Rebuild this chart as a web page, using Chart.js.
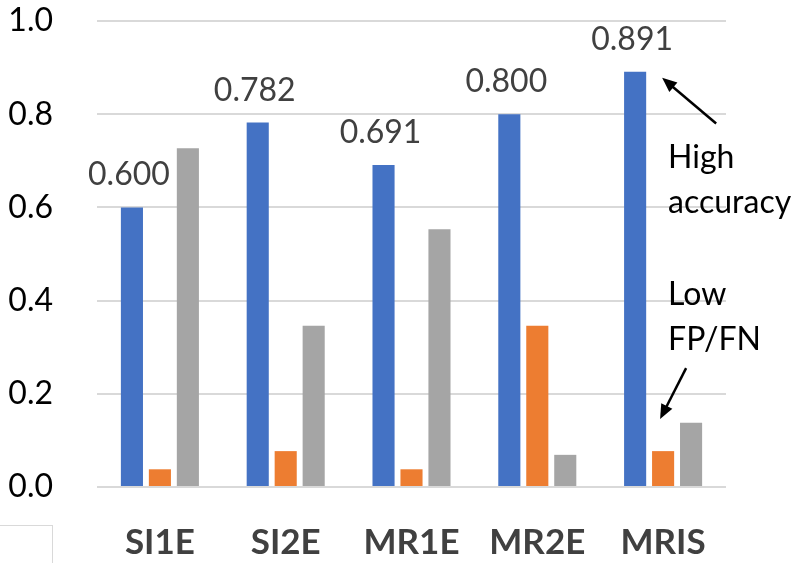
<!DOCTYPE html>
<html>
<head>
<meta charset="utf-8">
<script src="https://cdn.jsdelivr.net/npm/chart.js@4.4.0/dist/chart.umd.min.js"></script>
<style>
    body{ margin: 0; background: #ffffff; }
    #wrap{ position: relative; width: 799px; height: 563px; }
    #box{ position: absolute; left: 0; top: 525px; width: 52px; height: 40px; border: 1.5px solid #d9d9d9; border-left: none; border-bottom: none; }
</style>
</head>
<body>
<div id="wrap">
    <canvas id="chart" width="799" height="563"></canvas>
    <div id="box"></div>
</div>
<script>
let labels = ["SI1E", "SI2E", "MR1E", "MR2E", "MRIS"];
let accuracy = [0.600, 0.782, 0.691, 0.800, 0.891];
let fpRate = [0.038, 0.077, 0.038, 0.346, 0.077];
let fnRate = [0.727, 0.346, 0.553, 0.069, 0.138];
let yTicks = [0.0, 0.2, 0.4, 0.6, 0.8, 1.0];

const font = "Lato, 'Open Sans', sans-serif";

// values above the blue bars
const valueLabels = {
    id: "valueLabels",
    afterDatasetsDraw(chart){
        let ctx = chart.ctx;
        let meta = chart.getDatasetMeta(0);
        ctx.save();
        ctx.font = "32px " + font;
        ctx.fillStyle = "#404040";
        ctx.textAlign = "center";
        ctx.textBaseline = "alphabetic";
        for(let i=0;i<meta.data.length;i++){
            let bar = meta.data[i];
            ctx.fillText(accuracy[i].toFixed(3), bar.x - 3, bar.y - 22);
        }
        ctx.restore();
    }
};

function arrow(ctx, x1, y1, x2, y2){
    let a = Math.atan2(y2 - y1, x2 - x1);
    let len = 16;
    ctx.beginPath();
    ctx.moveTo(x1, y1);
    ctx.lineTo(x2 - Math.cos(a) * 8, y2 - Math.sin(a) * 8);
    ctx.stroke();
    ctx.beginPath();
    ctx.moveTo(x2, y2);
    ctx.lineTo(x2 - len * Math.cos(a - 0.4), y2 - len * Math.sin(a - 0.4));
    ctx.lineTo(x2 - len * Math.cos(a + 0.4), y2 - len * Math.sin(a + 0.4));
    ctx.closePath();
    ctx.fill();
}

// callouts next to the last group
const notes = {
    id: "notes",
    afterDraw(chart){
        let ctx = chart.ctx;
        let y = chart.scales.y;
        let last = labels.length - 1;
        let blue = chart.getDatasetMeta(0).data[last];
        let orange = chart.getDatasetMeta(1).data[last];
        let tx = orange.x + 5;
        ctx.save();
        ctx.fillStyle = "#000000";
        ctx.strokeStyle = "#000000";
        ctx.lineWidth = 2.5;
        ctx.font = "32px " + font;
        ctx.textAlign = "left";
        ctx.textBaseline = "alphabetic";
        ctx.fillText("High", tx, y.getPixelForValue(0.685));
        ctx.fillText("accuracy", tx, y.getPixelForValue(0.588));
        ctx.fillText("Low", tx, y.getPixelForValue(0.39));
        ctx.fillText("FP/FN", tx, y.getPixelForValue(0.294));
        arrow(ctx, blue.x + 81, y.getPixelForValue(0.78), blue.x + 27, blue.y + 6);
        arrow(ctx, orange.x + 23, y.getPixelForValue(0.255), orange.x - 3, orange.y - 32);
        ctx.restore();
    }
};

window.onload = function(){
    const ctx = document.getElementById("chart").getContext("2d");
    new Chart(ctx, {
        type: "bar",
        data: {
            labels: labels,
            datasets: [
                { label: "Accuracy", data: accuracy, backgroundColor: "#4472C4" },
                { label: "FP", data: fpRate, backgroundColor: "#ED7D31" },
                { label: "FN", data: fnRate, backgroundColor: "#A5A5A5" }
            ]
        },
        options: {
            responsive: false,
            animation: false,
            categoryPercentage: 0.667,
            barPercentage: 0.79,
            layout: { padding: { top: 21, right: 73, bottom: 0, left: 0 } },
            plugins: {
                legend: { display: false },
                tooltip: { enabled: false }
            },
            scales: {
                x: {
                    afterFit(scale){
                        scale.height = 76;
                        scale.paddingLeft = 0;
                        scale.paddingRight = 0;
                    },
                    grid: { display: false },
                    border: { display: false },
                    ticks: {
                        padding: 27,
                        maxRotation: 0,
                        minRotation: 0,
                        autoSkip: false,
                        color: "#404040",
                        font: { family: font, size: 35, weight: "bold" }
                    }
                },
                y: {
                    min: 0,
                    max: 1,
                    afterFit(scale){
                        scale.width = 97;
                        scale.paddingTop = 0;
                        scale.paddingBottom = 0;
                    },
                    afterBuildTicks(scale){ scale.ticks = yTicks.map(v => ({ value: v })); },
                    grid: { color: "#d9d9d9", lineWidth: 2, drawTicks: false },
                    border: { display: false },
                    ticks: {
                        padding: 44,
                        color: "#000000",
                        font: { family: font, size: 32 },
                        callback: v => v.toFixed(1)
                    }
                }
            }
        },
        plugins: [valueLabels, notes]
    });
}
</script>
</body>
</html>
